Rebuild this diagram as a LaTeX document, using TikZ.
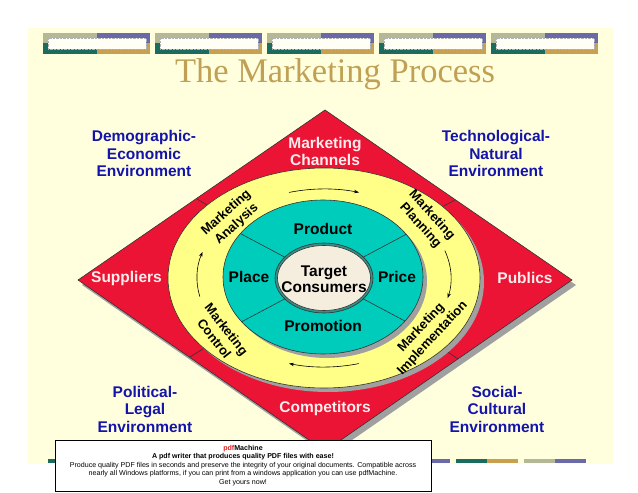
\documentclass[tikz,border=0pt]{standalone}
\usepackage{fontspec}
\setmainfont{Liberation Sans}
\newfontfamily\serifface{Liberation Serif}
\usetikzlibrary{arrows.meta}
\definecolor{bgyel}{RGB}{255,255,221}
\definecolor{sgray}{RGB}{180,184,150}
\definecolor{spurp}{RGB}{106,106,168}
\definecolor{steal}{RGB}{27,107,94}
\definecolor{stan}{RGB}{200,160,80}
\definecolor{titlec}{RGB}{192,160,85}
\definecolor{dred}{RGB}{236,20,52}
\definecolor{ryel}{RGB}{255,255,136}
\definecolor{rteal}{RGB}{0,204,187}
\definecolor{cbeige}{RGB}{245,238,222}
\definecolor{envblue}{RGB}{20,20,170}
\definecolor{shad}{RGB}{160,160,160}
\definecolor{lblwhite}{RGB}{255,236,236}
\definecolor{pdfred}{RGB}{220,30,30}
\begin{document}
\begin{tikzpicture}[x=1pt,y=1pt,
  envlbl/.style={text=envblue, font=\fontsize{15.5}{17.5}\selectfont\bfseries, align=center, inner sep=0pt},
  redlbl/.style={text=lblwhite, font=\fontsize{15.5}{17}\selectfont\bfseries, align=center, inner sep=0pt},
  mixlbl/.style={font=\fontsize{15.5}{16.5}\selectfont\bfseries, align=center, inner sep=0pt},
  ringlbl/.style={font=\fontsize{13}{15.5}\selectfont\bfseries, align=center, inner sep=0pt},
  ringarrow/.style={-{Stealth[length=5pt,width=3.5pt]}, line width=0.6pt},
  outl/.style={draw=black!80, line width=0.6pt}]
% background
\fill[white] (0,0) rectangle (638,493);
\useasboundingbox (0,0) rectangle (638,493);
\fill[bgyel] (28,29) rectangle (613,465);
% top stripes
\foreach \x in {43,155,267,379,491} {
  \fill[sgray] (\x,460) rectangle (\x+53.5,449.5);
  \fill[spurp] (\x+53.5,460) rectangle (\x+107,449.5);
  \fill[steal] (\x,449.5) rectangle (\x+53.5,439);
  \fill[stan] (\x+53.5,449.5) rectangle (\x+107,439);
  \filldraw[fill=white!70!bgyel, draw=gray!60, densely dotted, line width=0.4pt] (\x+5,455) rectangle (\x+103,444);
}
% bottom stripes
\foreach \k/\ca/\cb in {0/steal/stan,1/sgray/spurp,2/steal/stan,3/sgray/spurp,4/steal/stan,5/sgray/spurp,6/steal/stan,7/sgray/spurp} {
  \fill[\ca] (48+68*\k,30) rectangle (48+68*\k+31,34);
  \fill[\cb] (48+68*\k+31,30) rectangle (48+68*\k+62,34);
}
% title
\node[text=titlec, font=\serifface\fontsize{34.5}{34.5}\selectfont, anchor=base, inner sep=0pt] (title) at (335,410) {The Marketing Process};
% diamond
\coordinate (dT) at (325,383);
\coordinate (dR) at (572,213);
\coordinate (dB) at (325,42);
\coordinate (dL) at (78,213);
\fill[shad] ([shift={(4,-5)}]dT) -- ([shift={(4,-5)}]dR) -- ([shift={(4,-5)}]dB) -- ([shift={(4,-5)}]dL) -- cycle;
\filldraw[fill=dred, outl] (dT) -- (dR) -- (dB) -- (dL) -- cycle;
% band divisions
\draw[outl] (197,294) -- (212,285);
\draw[outl] (190,136) -- (206,146);
\draw[outl] (455,293) -- (440,285);
\draw[outl] (458,134) -- (442,145);
% yellow ring
\fill[shad] (328,211) ellipse[x radius=156, y radius=110];
\filldraw[fill=ryel, outl] (324,215) ellipse[x radius=156, y radius=110];
% ring arrows
\draw[ringarrow] (324,215) ++(106:127 and 89) arc[start angle=106, end angle=74, x radius=127, y radius=89];
\draw[ringarrow] (324,215) ++(18:127 and 89) arc[start angle=18, end angle=-13, x radius=127, y radius=89];
\draw[ringarrow] (324,215) ++(-74:127 and 89) arc[start angle=-74, end angle=-106, x radius=127, y radius=89];
\draw[ringarrow] (324,215) ++(192:127 and 89) arc[start angle=192, end angle=163, x radius=127, y radius=89];
% teal ellipse
\fill[shad] (327,212) ellipse[x radius=100, y radius=77];
\filldraw[fill=rteal, outl] (323,216) ellipse[x radius=100, y radius=77];
\begin{scope}
  \clip (323,216) ellipse[x radius=100, y radius=77];
  \foreach \a in {152,28,208,332} {
    \draw[black!80, line width=0.6pt] (324,215) -- ++(\a:150);
  }
\end{scope}
% centre ellipse
\filldraw[fill=black!25!rteal!60!gray, draw=black!80, line width=0.6pt] (324,215) ellipse[x radius=49, y radius=35];
\filldraw[fill=cbeige, draw=black!80, line width=0.6pt] (324,215) ellipse[x radius=46.5, y radius=32.5];
% centre labels
\node[mixlbl] (target) at (324,214) {Target\\Consumers};
\node[mixlbl] (product) at (323,264) {Product};
\node[mixlbl] (place) at (249,216) {Place};
\node[mixlbl] (price) at (397,216) {Price};
\node[mixlbl] (promotion) at (323,167) {Promotion};
% ring labels
\node[ringlbl, rotate=42] (analysis) at (231.5,274.5) {Marketing\\Analysis};
\node[ringlbl, rotate=-48] (planning) at (426,272.5) {Marketing\\Planning};
\node[ringlbl, rotate=-52] (control) at (220.5,159) {Marketing\\Control};
\node[ringlbl, rotate=47] (implementation) at (427,160) {Marketing\\Implementation};
% red band labels
\node[redlbl] (channels) at (325,341.5) {Marketing\\Channels};
\node[redlbl] (suppliers) at (126.5,215) {Suppliers};
\node[redlbl] (publics) at (525,215) {Publics};
\node[redlbl] (competitors) at (325,85) {Competitors};
% environment labels
\node[envlbl] (demo) at (144,339.5) {Demographic-\\Economic\\Environment};
\node[envlbl] (tech) at (496,339.5) {Technological-\\Natural\\Environment};
\node[envlbl] (poli) at (145,84) {Political-\\Legal\\Environment};
\node[envlbl] (soci) at (497,84) {Social-\\Cultural\\Environment};
% pdfMachine box
\node[draw=black, fill=white, line width=0.7pt, minimum width=376, minimum height=51, inner sep=1pt, align=center, font=\fontsize{7.1}{8.5}\selectfont] (pdfbox) at (243,27.5)
  {{\bfseries\textcolor{pdfred}{pdf}Machine}\\
   {\bfseries A pdf writer that produces quality PDF files with ease!}\\
   Produce quality PDF files in seconds and preserve the integrity of your original documents. Compatible across\\
   nearly all Windows platforms, if you can print from a windows application you can use pdfMachine.\\
   Get yours now!};
\end{tikzpicture}
\end{document}
